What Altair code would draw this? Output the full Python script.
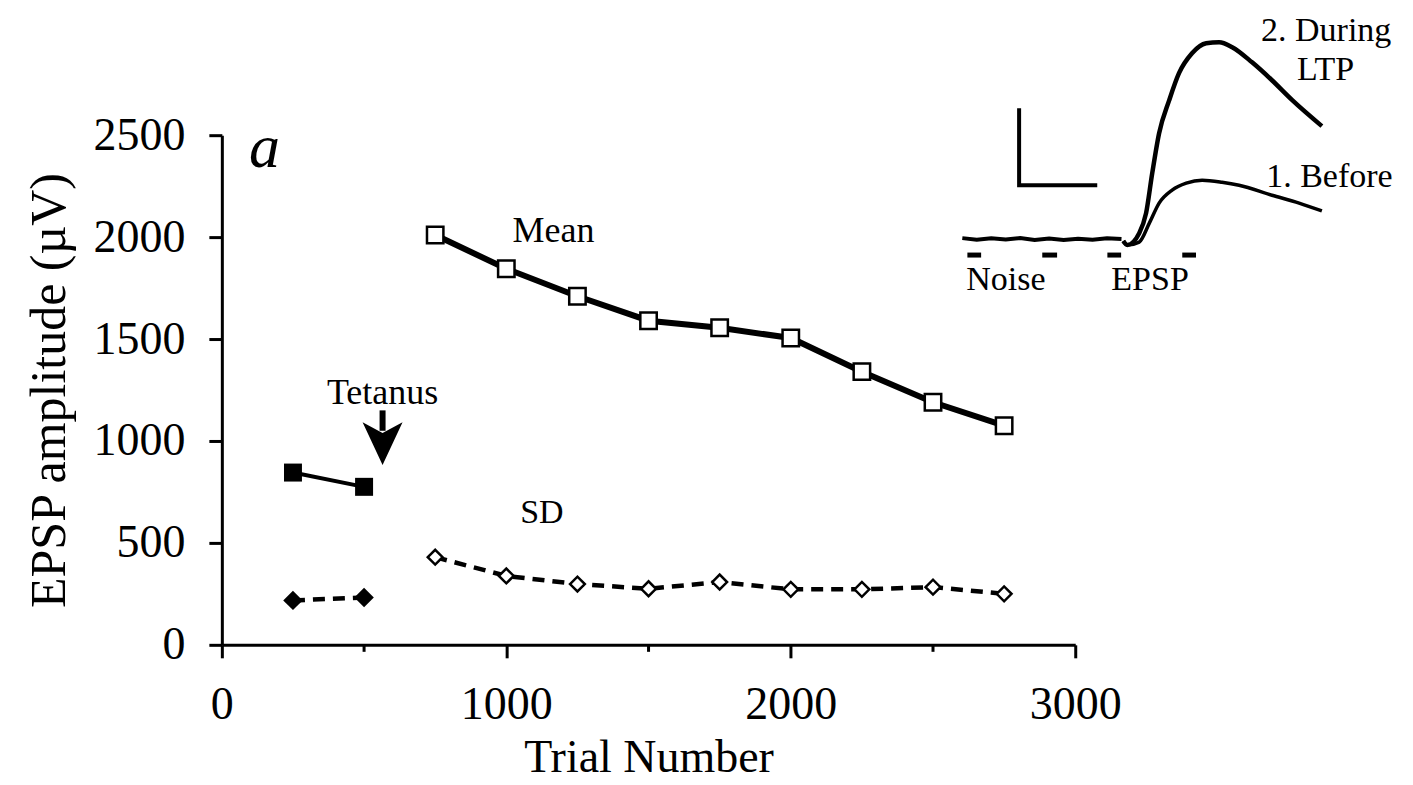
import altair as alt
import pandas as pd

FONT = "Liberation Serif"

# ---- main data ----
pre_trials = [250, 500]
pre_mean = [845, 775]
pre_sd = [218, 232]
post_trials = [750, 1000, 1250, 1500, 1750, 2000, 2250, 2500, 2750]
post_mean = [2010, 1845, 1710, 1590, 1555, 1505, 1340, 1190, 1075]
post_sd = [430, 338, 298, 275, 308, 272, 272, 283, 250]
x_ticks = [0, 1000, 2000, 3000]
x_minor = [500, 1500, 2500]
y_ticks = [0, 500, 1000, 1500, 2000, 2500]

# ---- annotations (data units) ----
tetanus_trial = [565]
arrow_shaft_y = [1150, 1050]
arrow_head_y = [987]
ann_text = ["Mean", "SD", "Tetanus"]
ann_x = [1166, 1125, 565]
ann_y = [1975, 600, 1180]
ann_size = [36, 34, 36]
panel_letter = ["a"]
panel_x = [150]
panel_y = [2345]

# ---- inset (arbitrary units: time 0-100, amplitude 0-100) ----
noise_t = [0, 4, 8, 12, 16, 20, 24, 28, 32, 36, 40, 44]
noise_v = [0.5, -0.3, 0.4, -0.2, 0.6, -0.4, 0.3, -0.5, 0.2, -0.3, 0.4, 0.0]
during_t = [44.5, 45.6, 48.9, 50.8, 52.5, 54.4, 57.2, 59.9, 63.5, 67.4, 71.0, 74.6, 80.1, 85.6, 91.2, 99.4]
during_v = [-1.0, -3.0, 3.0, 13.2, 33.5, 53.8, 70.6, 84.3, 94.4, 99.5, 100.0, 97.5, 89.8, 80.7, 70.6, 57.4]
before_t = [44.5, 45.6, 48.9, 51.7, 54.4, 58.0, 61.9, 66.3, 71.8, 76.5, 85.6, 93.1, 99.4]
before_v = [-1.0, -3.0, -1.5, 8.1, 18.3, 24.9, 28.4, 29.9, 28.9, 27.4, 22.3, 18.3, 14.3]
scalebar_t = [15.7, 15.7, 37.3]
scalebar_v = [66.5, 27.4, 27.4]
window_t1 = [1.4, 22.1, 40.1, 60.8]
window_t2 = [5.2, 26.2, 43.9, 64.6]
window_v = [-8.1, -8.1, -8.1, -8.1]
inset_text = ["Noise", "EPSP", "2. During", "LTP", "1. Before"]
inset_text_t = [1.1, 41.2, 82.6, 92.5, 84.0]
inset_text_v = [-25.9, -25.9, 100.5, 81.0, 26.4]

W, H = 854, 510

xs = alt.Scale(domain=[0, 3000], nice=False, zero=False)
ys = alt.Scale(domain=[0, 2500], nice=False, zero=False)

pre = pd.DataFrame({"trial": pre_trials, "mean": pre_mean, "sd": pre_sd})
post = pd.DataFrame({"trial": post_trials, "mean": post_mean, "sd": post_sd})

x_axis = alt.Axis(values=x_ticks, format="d", tickSize=13, tickWidth=3,
                  tickColor="black", domainWidth=3, domainColor="black",
                  grid=False, labelFont=FONT, labelFontSize=46,
                  labelColor="black", labelPadding=25, labelFlush=False,
                  title="Trial Number", titleFont=FONT, titleFontSize=46,
                  titleFontWeight="normal", titleColor="black", titlePadding=8)
y_axis = alt.Axis(values=y_ticks, format="d", tickSize=13, tickWidth=3,
                  tickColor="black", domainWidth=3, domainColor="black",
                  grid=False, labelFont=FONT, labelFontSize=46,
                  labelColor="black", labelPadding=24, labelFlush=False,
                  title="EPSP amplitude (µV)", titleFont=FONT, titleFontSize=50,
                  titleFontWeight="normal", titleColor="black", titlePadding=18)

base_pre = alt.Chart(pre)
base_post = alt.Chart(post)

pre_mean_line = base_pre.mark_line(color="black", strokeWidth=4).encode(
    x=alt.X("trial:Q", scale=xs, axis=x_axis),
    y=alt.Y("mean:Q", scale=ys, axis=y_axis))
pre_mean_pts = base_pre.mark_point(shape="square", filled=True, color="black",
                                   size=324, opacity=1).encode(
    x=alt.X("trial:Q", scale=xs), y=alt.Y("mean:Q", scale=ys))
post_mean_line = base_post.mark_line(color="black", strokeWidth=6).encode(
    x=alt.X("trial:Q", scale=xs), y=alt.Y("mean:Q", scale=ys))
post_mean_pts = base_post.mark_point(shape="square", filled=True, fill="white",
                                     stroke="black", strokeWidth=2.5,
                                     size=270, opacity=1).encode(
    x=alt.X("trial:Q", scale=xs), y=alt.Y("mean:Q", scale=ys))

pre_sd_line = base_pre.mark_line(color="black", strokeWidth=4.5,
                                 strokeDash=[12, 8]).encode(
    x=alt.X("trial:Q", scale=xs), y=alt.Y("sd:Q", scale=ys))
pre_sd_pts = base_pre.mark_point(shape="diamond", filled=True, color="black",
                                 size=380, opacity=1).encode(
    x=alt.X("trial:Q", scale=xs), y=alt.Y("sd:Q", scale=ys))
post_sd_line = base_post.mark_line(color="black", strokeWidth=4.5,
                                   strokeDash=[12, 8]).encode(
    x=alt.X("trial:Q", scale=xs), y=alt.Y("sd:Q", scale=ys))
post_sd_pts = base_post.mark_point(shape="diamond", filled=True, fill="white",
                                   stroke="black", strokeWidth=2.5,
                                   size=220, opacity=1).encode(
    x=alt.X("trial:Q", scale=xs), y=alt.Y("sd:Q", scale=ys))

minor = alt.Chart(pd.DataFrame({"trial": x_minor})).mark_rule(
    color="black", strokeWidth=3).encode(
    x=alt.X("trial:Q", scale=xs), y=alt.value(H), y2=alt.value(H + 7))

arrow_df = pd.DataFrame({"trial": tetanus_trial,
                         "y1": [arrow_shaft_y[0]], "y2": [arrow_shaft_y[1]],
                         "yh": arrow_head_y})
shaft = alt.Chart(arrow_df).mark_rule(color="black", strokeWidth=6).encode(
    x=alt.X("trial:Q", scale=xs), y=alt.Y("y1:Q", scale=ys), y2="y2:Q")
head = alt.Chart(arrow_df).mark_point(
    shape="M-0.93,-1L0,-0.5L0.93,-1L0,1Z", filled=True, color="black",
    size=1849, opacity=1, strokeWidth=0).encode(
    x=alt.X("trial:Q", scale=xs), y=alt.Y("yh:Q", scale=ys))

ann_df = pd.DataFrame({"trial": ann_x, "val": ann_y, "txt": ann_text,
                       "sz": ann_size})
ann = alt.Chart(ann_df).mark_text(
    font=FONT, color="black", align="center", baseline="alphabetic").encode(
    x=alt.X("trial:Q", scale=xs), y=alt.Y("val:Q", scale=ys),
    text="txt:N", size=alt.Size("sz:Q", scale=None, legend=None))

letter = alt.Chart(pd.DataFrame({"trial": panel_x, "val": panel_y,
                                 "txt": panel_letter})).mark_text(
    font=FONT, fontStyle="italic", fontSize=62, color="black",
    align="center", baseline="alphabetic").encode(
    x=alt.X("trial:Q", scale=xs), y=alt.Y("val:Q", scale=ys), text="txt:N")

main = alt.layer(pre_mean_line, post_mean_line, pre_sd_line, post_sd_line,
                 minor, pre_mean_pts, post_mean_pts, pre_sd_pts, post_sd_pts,
                 shaft, head, ann, letter)

# ---- inset ----
ix = alt.Scale(domain=[0, 100], range=[741, 1103], nice=False, zero=False)
iy = alt.Scale(domain=[0, 100], range=[104, -93], nice=False, zero=False)

def IX(f):
    return alt.X(f, scale=ix, axis=None)

def IY(f):
    return alt.Y(f, scale=iy, axis=None)

noise = alt.Chart(pd.DataFrame({"t": noise_t, "v": noise_v})).mark_line(
    color="black", strokeWidth=4).encode(x=IX("t:Q"), y=IY("v:Q"))
during = alt.Chart(pd.DataFrame({"t": during_t, "v": during_v})).mark_line(
    color="black", strokeWidth=4.5, interpolate="monotone").encode(
    x=IX("t:Q"), y=IY("v:Q"))
before = alt.Chart(pd.DataFrame({"t": before_t, "v": before_v})).mark_line(
    color="black", strokeWidth=3.5, interpolate="monotone").encode(
    x=IX("t:Q"), y=IY("v:Q"))
sb_df = pd.DataFrame({"t": scalebar_t, "v": scalebar_v,
                      "o": list(range(len(scalebar_t)))})
scalebar = alt.Chart(sb_df).mark_line(color="black", strokeWidth=4,
                                      strokeJoin="miter").encode(
    x=IX("t:Q"), y=IY("v:Q"), order="o:O")
windows = alt.Chart(pd.DataFrame({"t1": window_t1, "t2": window_t2,
                                  "v": window_v})).mark_rule(
    color="black", strokeWidth=5).encode(
    x=IX("t1:Q"), x2="t2:Q", y=IY("v:Q"))
itext = alt.Chart(pd.DataFrame({"t": inset_text_t, "v": inset_text_v,
                                "txt": inset_text})).mark_text(
    font=FONT, fontSize=34, color="black", align="left",
    baseline="alphabetic").encode(x=IX("t:Q"), y=IY("v:Q"), text="txt:N")

inset = alt.layer(noise, during, before, scalebar, windows, itext)

chart = alt.layer(main, inset).resolve_scale(
    x="independent", y="independent").properties(
    width=W, height=H,
    autosize=alt.AutoSizeParams(type="none"),
    padding={"left": 214, "top": 127, "right": 330, "bottom": 138},
    background="white",
).configure_view(stroke=None)

chart.save("out.html", embed_options={"renderer": "svg", "actions": False})
